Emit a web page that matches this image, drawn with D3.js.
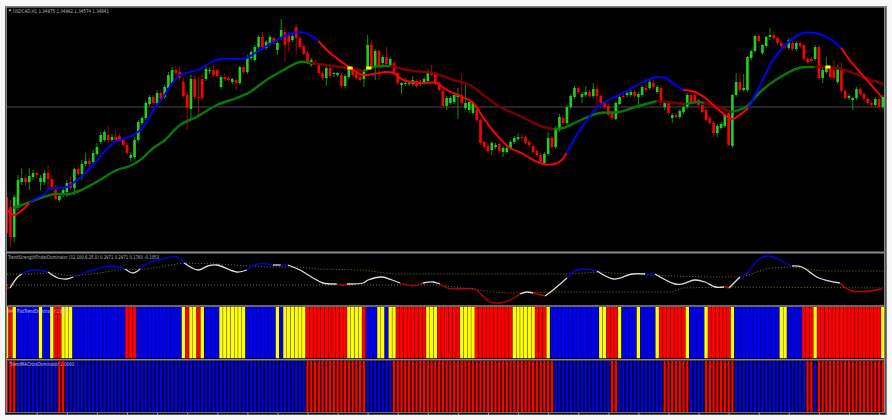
<!DOCTYPE html>
<html><head><meta charset="utf-8">
<script src="https://cdn.jsdelivr.net/npm/d3@7/dist/d3.min.js"></script>
<style>html,body{margin:0;padding:0;background:#f8f8f8;overflow:hidden}svg{display:block}text{font-family:"DejaVu Sans",sans-serif}</style>
</head><body><svg id="c" width="892" height="420"></svg>
<script>
// Candles, in half-pips above the bottom of the price panel
const opens=[53,43,13,42,68,72,68,73,77,68,68,77,71,60,50,55,58,68,62,81,76,86,89,88,96,108,110,115,110,113,114,110,105,92,93,110,127,132,146,153,147,157,153,162,167,180,178,168,155,141,171,153,171,171,179,180,180,163,173,172,168,170,167,183,178,192,190,203,213,202,206,212,200,213,218,215,210,223,212,204,197,185,188,185,177,172,182,176,175,175,164,173,181,177,173,171,182,205,183,199,187,193,185,187,177,165,166,166,166,169,166,167,169,177,175,167,159,144,147,148,153,155,142,140,137,140,130,108,104,100,103,106,98,98,102,108,111,113,113,108,104,99,95,87,96,112,103,120,132,127,143,153,162,153,155,158,154,161,154,147,144,137,131,146,154,155,155,158,153,155,162,162,167,158,162,143,147,132,135,133,138,143,155,155,150,145,140,132,127,117,122,124,137,104,155,168,160,160,192,199,214,197,204,213,215,212,207,205,202,207,201,207,205,191,191,191,203,172,178,182,180,168,182,159,152,150,152,161,156,151,147,145,151,143];
const highs=[60,50,55,75,82,75,82,80,78,75,80,85,75,65,57,63,70,74,82,85,90,97,92,100,107,118,120,124,116,120,117,113,108,98,113,130,134,149,155,155,160,160,165,178,183,184,184,172,158,175,175,173,177,184,183,185,182,175,177,174,172,172,184,185,195,200,205,215,218,210,215,214,209,231,222,218,216,226,214,206,199,192,190,187,179,184,184,178,178,177,176,185,183,179,175,180,215,210,201,201,195,203,193,189,179,168,172,169,174,171,170,173,181,185,177,169,161,154,154,157,162,176,165,150,149,142,132,110,106,109,107,108,104,104,110,114,117,116,115,110,106,101,97,98,118,114,124,136,134,145,156,164,164,158,164,160,167,166,156,149,146,139,149,155,156,158,160,160,158,165,172,172,170,165,164,149,149,137,137,141,145,157,157,157,152,147,142,134,129,126,128,136,139,156,177,177,176,194,200,215,216,206,214,222,218,214,209,207,212,209,209,209,207,193,193,205,205,182,193,184,190,185,188,161,156,153,163,163,158,153,149,153,153,155];
const lows=[17,3,8,40,65,64,60,70,72,60,65,60,60,50,48,53,53,60,55,74,70,84,83,85,94,106,108,107,108,108,109,104,96,88,91,108,125,130,144,145,145,149,151,160,165,175,170,152,120,130,150,133,150,169,176,173,172,161,169,168,166,160,165,176,176,190,188,201,200,200,204,206,195,210,188,198,208,196,201,195,186,183,185,175,170,164,172,173,173,162,162,171,173,170,168,163,180,181,170,170,184,184,183,175,165,156,164,164,164,162,164,165,167,173,165,158,142,140,145,146,131,145,140,137,135,128,105,101,97,95,101,97,93,96,100,106,109,110,105,103,96,93,86,85,94,101,101,118,125,125,141,151,156,147,153,152,152,145,145,141,133,130,130,145,152,153,153,152,145,153,158,160,161,156,145,140,135,127,131,131,136,141,146,146,143,136,128,125,113,113,120,122,104,102,153,158,158,158,190,197,207,195,202,210,210,205,202,201,200,199,199,202,189,186,187,189,170,167,176,171,170,166,157,150,150,140,150,154,149,145,143,143,141,141];
const closes=[17,13,53,70,72,68,74,77,75,72,77,71,63,51,54,60,67,62,81,76,86,89,86,97,103,115,118,110,113,110,111,105,97,95,110,128,132,147,153,147,157,151,163,175,180,177,172,154,142,171,153,152,152,181,180,175,174,173,171,170,171,167,183,178,193,198,203,213,203,208,213,208,207,220,205,208,214,212,203,196,188,190,187,177,172,182,174,177,177,164,174,183,175,172,170,178,205,183,199,185,193,186,191,177,167,167,167,167,170,164,168,171,179,175,167,160,144,152,152,155,156,147,147,148,147,130,107,103,99,107,105,99,102,102,108,112,113,112,107,105,98,95,88,96,112,103,120,133,127,143,154,162,158,156,158,154,161,154,147,143,135,132,147,153,153,157,158,154,156,163,160,168,163,163,147,147,137,135,133,139,143,155,148,148,145,138,130,127,117,124,126,135,105,155,168,160,162,193,199,214,209,205,213,215,212,207,204,203,210,201,207,204,191,188,189,203,172,180,183,173,172,183,159,152,154,152,161,156,151,147,145,151,143,153];
const bidLevel=143;

// Fast moving average
const fastBars=[0,1,2,3.5,5,6,7.5,9.7,11.5,13.3,16,17.7,20.4,23,25.7,28.4,30.1,33.7,36.3,39,41.6,44.3,46.1,48.8,51.4,54,56.7,60.2,63.8,66.5,69.1,72.7,75.3,78,80.7,82.9,86,89.5,92.2,94.8,97.5,101,102.8,105.5,109.9,114.4,117,120.6,124.1,126.8,130.3,133.9,137.4,140,142.7,145.8,147.6,148.9,151.6,154.3,155.7,157.8,160.1,162.8,166.3,169.8,172.9,175.2,177.8,179.9,183.1,185.8,189.4,192.9,195.6,197.2,200,203.5,207.1,211.1,215,218.6,221.9,224.8,228.3,232.7];
const fastValues=[41,37,35,38,43,47,51,55,61,62,63,67,75,85,97,107,110,115,123,140,153,168,175,178,181,187,191,191,192,198,204,212,216,218,215,209,197,187,180,175,176,178,177,170,167,167,160,154,147,132,115,102,96,90,86,86,90,97,115,130,137,145,150,155,162,169,173,172,165,160,158,152,140,131,137,142,162,188,205,216,217,212,202,187,172,153];
const fastBreaks=[6,82.9,148.9,179.9,197.2,221.9];
const fastColors=["#ff0000","#0000ff","#ff0000","#0000ff","#ff0000","#0000ff","#ff0000"];

// Slow moving average
const slowBars=[1.8,6.2,9.7,12.8,16.8,20.4,24.8,29.3,32.8,35.5,39,42.1,46.1,50.5,55.9,61.2,64.7,69.1,73.6,78,80.7,86.9,90.4,94.8,97.5,102,108.1,113.5,117.9,123.2,126.8,131.2,134.7,139.2,142.7,145.4,148,151.6,155.1,157.8,162.8,167.2,172.9,180.5,184,185.4,189.4,192.6,196.6,200.1,204.5,210.7,214.7,218.6,223,228.3,233.2];
const slowValues=[42,48,53,56,56,61,70,80,84,90,102,110,125,133,145,152,158,170,180,188,187,184,182,179,183,184,179,177,171,165,155,143,137,129,123,121,122,128,134,137,138,143,149,146,148,147,143,138,143,157,170,182,183,183,180,172,166];
const slowBreaks=[80.7,94.8,102,145.4,172.9,180.5,185.4,192.6,214.7];
const slowColors=["#067a06","#7a0000","#067a06","#7a0000","#067a06","#7a0000","#067a06","#7a0000","#067a06","#7a0000"];
const flipBars=[91.3,96.3,218.4];
const flipValues=[182,182,183];

// Oscillator panel
const oscBars=[0.1,0.9,2.7,4,5.7,8,11,13.6,16,17.7,20.3,23.9,27.5,31.5,33.6,35.5,38.1,40.8,45.3,47.2,50.9,53.5,55.9,61.2,63.9,66.8,70.8,72.9,74.8,78,81.5,84.1,87.8,89.1,90.5,94.8,96.1,99.8,102.5,104.6,108,110.7,113.4,115.2,117.1,119.8,124.5,126.4,128.5,131.2,133.9,136.5,138.4,140,143.2,145.3,149,150.6,153.3,155.9,157,161.5,166.3,169.8,172.4,177.7,179.6,183,185.7,188.4,190.8,192.1,195,196.4,200.1,202.8,206.2,208.9,211.5,216,221.6,224.8,232.8];
const oscValues=[17,17,27,31,34,35,33,27,26,28,32,36,39,36,32,36,43,46,48,42,35,39,40,33,35,41,40,40,40,35,27,22,21,20,21,22,25,28,25,22,19,22,23,21,17,16,16,10,3,2,5,11,13,12,9,15,27,33,36,35,34,26,31,31,31,21,21,25,23,18,18,17,28,30,46,49,44,39,38,27,22,14,16];
const oscBreaks=[0.9,4,11,17.7,31.5,35.5,47.2,63.9,70.8,72.9,74.8,87.8,90.5,104.6,110.7,115.2,136.5,140,143.2,149,157,169.8,172.4,190.8,192.1,195,208.9,221.6];
const W="#dcdcdc",B="#0000e6",R="#c80000";
const oscColors=[R,W,B,W,B,W,B,W,B,W,B,W,R,W,R,W,R,W,R,W,B,W,B,W,R,W,B,W,R];
const upperBars=[0.1,7,11.5,17.6,24.8,29.3,37.3,46.9,55.9,69.2,78,82.5,94.8,102.7,149,157.8,164.4,177,186.5,195.5,202.7,208.9,217.6,233.3];
const upperValues=[31,31,32,29,32,35,36,42,41,38,38,36,35,31,31,33,31,29,28,28,37,38,34,34];
const lowerBars=[0.1,115,132,147.2,177,179.6,191,233.3];
const lowerValues=[20,20,12,13,13,17,18,17];

// Histogram panels, as runs of bars
const flatEnds=[1,2,3,9,10,12,13,15,18,32,35,47,48,49,51,52,53,57,64,72,73,74,80,91,95,96,99,101,102,104,112,115,121,125,135,141,144,145,158,160,163,164,168,169,173,174,181,182,186,187,193,194,206,208,212,215,216,233,234];
const flatStates="YRYBYBYRYBRBYRYRYBYBYBYRYRBYBYRYRYRYRYBYRYBYBYRYBYRYBYBRYRY";
const crossEnds=[3,14,16,80,96,103,146,161,163,175,182,186,194,213,215,216,234];
const crossStates="RBRBRBRBRBRBRBRBR";
const stateFill={Y:"#ffff00",R:"#ff0000",B:"#0000f0"};
const tickBars=d3.range(8,234,8);
const titleText="USDCAD,H1  1.34875 1.34862 1.34574 1.34841";
const oscLabel="TrendStrengthFinderDominator (32,100,6,25,0) 0.2971 0.2971 0.1760 -0.1053";
const flatLabel="FlatTrendDominator 1.0000";
const crossLabel="TrendMACrossDominator 1.0000";

const svg=d3.select("#c");
const x=d3.scaleLinear().domain([0,233]).range([6.7,882.8]);
const yP=d3.scaleLinear().domain([0,240]).range([250,10]);
const yO=d3.scaleLinear().domain([0,52]).range([305,253]);
const L=7,Rt=884;

const defs=svg.append("defs");
const clip=(id,y0,y1)=>defs.append("clipPath").attr("id",id).append("rect").attr("x",L).attr("y",y0).attr("width",Rt-L).attr("height",y1-y0);
clip("cp",8,251);clip("co",254,305);clip("cf",307,358.5);clip("cx",361,412);

svg.append("rect").attr("x",5).attr("y",6).attr("width",881.5).attr("height",409).attr("fill","#000");
svg.append("rect").attr("x",5.5).attr("y",6.5).attr("width",880).attr("height",408).attr("fill","none").attr("stroke","#555");
svg.append("line").attr("x1",5).attr("x2",886).attr("y1",7).attr("y2",7).attr("stroke","#aaa");
svg.append("line").attr("x1",6.5).attr("x2",6.5).attr("y1",7).attr("y2",413).attr("stroke","#888");
svg.append("line").attr("x1",884.5).attr("x2",884.5).attr("y1",7).attr("y2",413).attr("stroke","#888");
[252.5,306,359.8].forEach(v=>svg.append("line").attr("x1",6).attr("x2",885).attr("y1",v).attr("y2",v).attr("stroke","#8a8a8a").attr("stroke-width",v===252.5?1.8:1.6));
svg.append("line").attr("x1",6).attr("x2",885).attr("y1",412.6).attr("y2",412.6).attr("stroke","#777");

const gp=svg.append("g").attr("clip-path","url(#cp)");
gp.append("line").attr("x1",L).attr("x2",Rt).attr("y1",yP(bidLevel)).attr("y2",yP(bidLevel)).attr("stroke","#4a4a4a").attr("stroke-width",1);
const idx=d3.range(opens.length);
gp.append("g").selectAll("line").data(idx).join("line")
 .attr("x1",i=>x(i)).attr("x2",i=>x(i)).attr("y1",i=>yP(highs[i])).attr("y2",i=>yP(lows[i]))
 .attr("stroke",i=>closes[i]>=opens[i]?"#0c8f0c":"#a80000").attr("stroke-width",1);
gp.append("g").selectAll("rect").data(idx).join("rect")
 .attr("x",i=>x(i)-1.3).attr("width",2.6)
 .attr("y",i=>yP(Math.max(opens[i],closes[i])))
 .attr("height",i=>Math.max(1,Math.abs(yP(opens[i])-yP(closes[i]))))
 .attr("fill",i=>closes[i]>=opens[i]?"#1fd01f":"#ff0000");

function segments(bars,vals,breaks,colors){
  const out=[];let cur=[],k=0;
  bars.forEach((b,i)=>{cur.push([b,vals[i]]);
    if(k<breaks.length&&b===breaks[k]){out.push({pts:cur,color:colors[k]});cur=[[b,vals[i]]];k++;}});
  out.push({pts:cur,color:colors[k]});
  return out;
}
function drawLine(g,bars,vals,breaks,colors,yS,w){
  const ln=d3.line().x(d=>x(d[0])).y(d=>yS(d[1])).curve(d3.curveCatmullRom.alpha(0.5));
  g.append("g").attr("fill","none").selectAll("path").data(segments(bars,vals,breaks,colors)).join("path")
   .attr("d",d=>ln(d.pts)).attr("stroke",d=>d.color).attr("stroke-width",w).attr("stroke-linejoin","round");
}
drawLine(gp,slowBars,slowValues,slowBreaks,slowColors,yP,2.4);
drawLine(gp,fastBars,fastValues,fastBreaks,fastColors,yP,1.9);
gp.append("g").selectAll("rect").data(flipBars).join("rect")
 .attr("x",b=>x(b)-2.6).attr("width",5.2).attr("height",3)
 .attr("y",(b,i)=>yP(flipValues[i])-1.5).attr("fill","#ffff00");

const go=svg.append("g").attr("clip-path","url(#co)");
const dots=d3.line().x(d=>x(d[0])).y(d=>yO(d[1]));
[[upperBars,upperValues],[lowerBars,lowerValues]].forEach(([b,v])=>{
  go.append("path").attr("d",dots(b.map((t,i)=>[t,v[i]]))).attr("fill","none").attr("stroke","#87871c").attr("stroke-width",0.9).attr("stroke-dasharray","1 2");
});
drawLine(go,oscBars,oscValues,oscBreaks,oscColors,yO,1.3);

function expand(ends,states){const o=[];let s=0;ends.forEach((e,i)=>{for(let b=s;b<e;b++)o.push(states[i]);s=e;});return o;}
function hist(id,ends,states,y0,y1,w){
  svg.append("g").attr("clip-path","url(#"+id+")").selectAll("rect").data(expand(ends,states)).join("rect")
   .attr("x",(d,i)=>x(i)-w/2).attr("width",w).attr("y",y0).attr("height",y1-y0).attr("fill",d=>stateFill[d]);
}
hist("cf",flatEnds,flatStates,307,358.5,3.4);
hist("cx",crossEnds,crossStates,361,412,2.3);

const axis=d3.axisBottom(x).tickValues(tickBars).tickSize(2).tickFormat("");
const ag=svg.append("g").attr("transform","translate(0,413)").call(axis);
ag.select(".domain").remove();
ag.selectAll("line").attr("stroke","#999");

function label(t,px,py,len,color){
  svg.append("text").attr("x",px).attr("y",py).attr("font-size",5.2).attr("fill",color)
   .attr("textLength",len).attr("lengthAdjust","spacingAndGlyphs").text(t);
}
svg.append("path").attr("d","M8.5 9.6L11.6 9.6L10 11.6Z").attr("fill","#ccc");
label(titleText,13,12.6,96,"#b8b8b8");
label(oscLabel,8,259,151,"#b8b8b8");
label("H4",8,312.5,5.5,"#d0d0f0");
label(flatLabel,17,312.5,53,"#c8c8f0");
label(crossLabel,10,366,64,"#c0c0d8");
</script></body></html>
